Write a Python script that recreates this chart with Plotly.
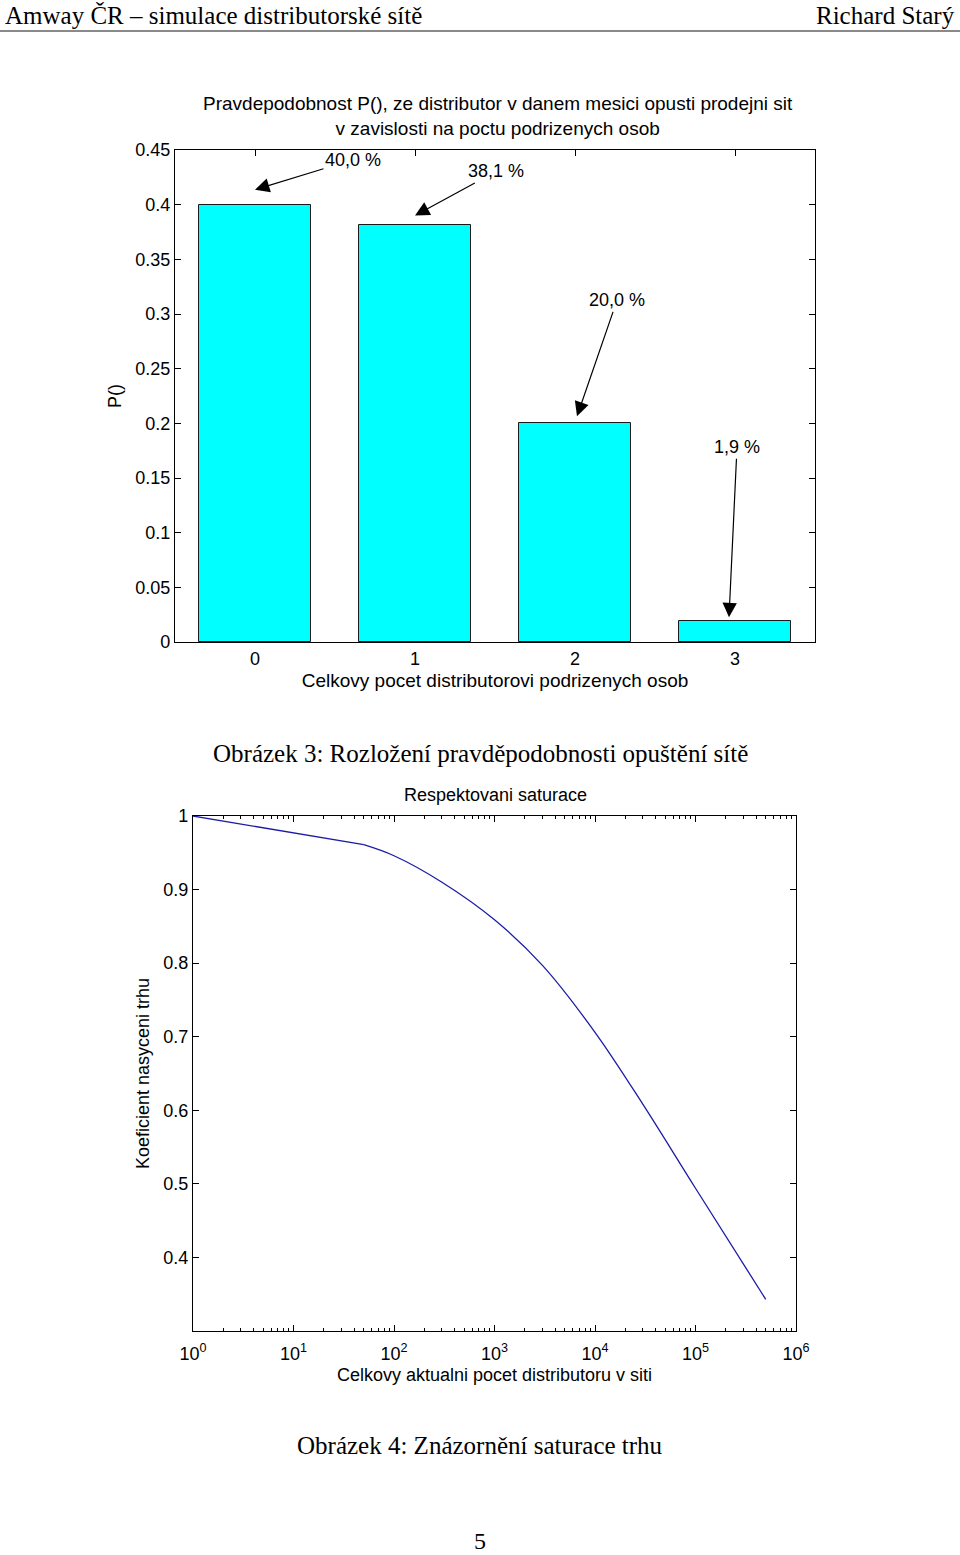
import plotly.graph_objects as go

# ---- data: bar chart ----
bar_cats = [0, 1, 2, 3]
bar_vals = [0.400, 0.381, 0.200, 0.019]
bar_labels = ["40,0 %", "38,1 %", "20,0 %", "1,9 %"]

# ---- data: saturation curve ----
sat_x = [1, 50, 100, 300, 1000, 3000, 10000, 30000, 100000, 500000]
sat_y = [1.000, 0.961, 0.946, 0.910, 0.859, 0.797, 0.706, 0.608, 0.494, 0.343]

bar_yticks = [0, 0.05, 0.1, 0.15, 0.2, 0.25, 0.3, 0.35, 0.4, 0.45]
bar_yticktext = ["0", "0.05", "0.1", "0.15", "0.2", "0.25", "0.3", "0.35", "0.4", "0.45"]
sat_yticks = [0.4, 0.5, 0.6, 0.7, 0.8, 0.9, 1.0]
sat_yticktext = ["0.4", "0.5", "0.6", "0.7", "0.8", "0.9", "1"]
sat_xticks = [1, 10, 100, 1000, 10000, 100000, 1000000]
sat_xticktext = ["10<sup>%d</sup>" % i for i in range(7)]

W, H = 960, 1555
SANS = "Liberation Sans, Arial, sans-serif"
SERIF = "Liberation Serif, Times New Roman, serif"

def px(x):
    return x / W

def py(y):
    return 1 - y / H

fig = go.Figure()

fig.add_trace(go.Bar(
    x=bar_cats, y=bar_vals, width=0.7,
    marker=dict(color="#00FFFF", line=dict(color="#1a1a1a", width=1)),
    xaxis="x", yaxis="y", showlegend=False,
))

# straight first segment up to the kink, smooth curve afterwards
fig.add_trace(go.Scatter(
    x=sat_x[:2], y=sat_y[:2], mode="lines",
    line=dict(color="#1c1ca8", width=1.3),
    xaxis="x2", yaxis="y2", showlegend=False,
))
fig.add_trace(go.Scatter(
    x=sat_x[1:], y=sat_y[1:], mode="lines",
    line=dict(color="#1c1ca8", width=1.3, shape="spline", smoothing=1.0),
    xaxis="x2", yaxis="y2", showlegend=False,
))

axis_common = dict(
    showline=True, linecolor="black", linewidth=1.2, mirror="ticks",
    ticks="inside", tickcolor="black", ticklen=6, tickwidth=1,
    showgrid=False, zeroline=False,
    tickfont=dict(family=SANS, size=18, color="black"),
    automargin=False,
)

fig.update_layout(
    width=W, height=H,
    margin=dict(l=0, r=0, t=0, b=0),
    paper_bgcolor="white", plot_bgcolor="white",
    bargap=0,
    xaxis=dict(
        axis_common, domain=[px(175), px(815)], range=[-0.5, 3.5],
        tickvals=bar_cats, ticktext=[str(c) for c in bar_cats],
        layer="below traces", anchor="y",
        title=dict(text="Celkovy pocet distributorovi podrizenych osob",
                   font=dict(family=SANS, size=19, color="black"), standoff=5),
    ),
    yaxis=dict(
        axis_common, domain=[py(642), py(150)], range=[0, 0.45],
        tickvals=bar_yticks, ticktext=bar_yticktext, anchor="x",
        title=dict(text="P()", font=dict(family=SANS, size=18, color="black"), standoff=8),
    ),
    xaxis2=dict(
        axis_common, domain=[px(193), px(796)], type="log", range=[0, 6],
        tickvals=sat_xticks, ticktext=sat_xticktext, anchor="y2",
        ticklabelstandoff=6,
        minor=dict(ticks="inside", ticklen=3, tickcolor="black", dtick="D1"),
        title=dict(text="Celkovy aktualni pocet distributoru v siti",
                   font=dict(family=SANS, size=18, color="black"), standoff=5),
    ),
    yaxis2=dict(
        axis_common, domain=[py(1331), py(816)], range=[0.3, 1.0],
        tickvals=sat_yticks, ticktext=sat_yticktext, anchor="x2",
        title=dict(text="Koeficient nasyceni trhu", font=dict(family=SANS, size=18, color="black"), standoff=8),
    ),
)

annotations = []

# page header
annotations.append(dict(text="Amway ČR – simulace distributorské sítě", x=px(3), y=py(15),
                        xref="paper", yref="paper", xanchor="left", yanchor="middle", showarrow=False,
                        font=dict(family=SERIF, size=25, color="black")))
annotations.append(dict(text="Richard Starý", x=px(957), y=py(15),
                        xref="paper", yref="paper", xanchor="right", yanchor="middle", showarrow=False,
                        font=dict(family=SERIF, size=25, color="black")))

# chart titles
annotations.append(dict(text="Pravdepodobnost P(), ze distributor v danem mesici opusti prodejni sit<br>v zavislosti na poctu podrizenych osob",
                        x=px(498), y=py(116), xref="paper", yref="paper", xanchor="center", yanchor="middle",
                        showarrow=False, font=dict(family=SANS, size=19, color="black")))
annotations.append(dict(text="Respektovani saturace", x=px(495), y=py(795), xref="paper", yref="paper",
                        xanchor="center", yanchor="middle", showarrow=False,
                        font=dict(family=SANS, size=18, color="black")))

# captions
annotations.append(dict(text="Obrázek 3: Rozložení pravděpodobnosti opuštění sítě", x=px(480), y=py(753),
                        xref="paper", yref="paper", xanchor="center", yanchor="middle", showarrow=False,
                        font=dict(family=SERIF, size=25, color="black")))
annotations.append(dict(text="Obrázek 4: Znázornění saturace trhu", x=px(480), y=py(1445),
                        xref="paper", yref="paper", xanchor="center", yanchor="middle", showarrow=False,
                        font=dict(family=SERIF, size=25, color="black")))
annotations.append(dict(text="5", x=px(480), y=py(1541),
                        xref="paper", yref="paper", xanchor="center", yanchor="middle", showarrow=False,
                        font=dict(family=SERIF, size=24, color="black")))

# bar arrows
arrow_ax = [98, 81, 40, 8]
arrow_ay = [-30, -44, -116, -170]
arrow_yshift = [15, 10, 7, 4]
arrow_xshift = [0, 0, 2, -6]
for c, v, lab, axo, ayo, ys, xs in zip(bar_cats, bar_vals, bar_labels, arrow_ax, arrow_ay, arrow_yshift, arrow_xshift):
    annotations.append(dict(
        text=lab, x=c, y=v, xref="x", yref="y", ax=axo, ay=ayo, axref="pixel", ayref="pixel",
        showarrow=True, arrowhead=2, arrowsize=2.4, arrowwidth=1.2, arrowcolor="black",
        yshift=ys, xshift=xs, font=dict(family=SANS, size=18, color="black"),
    ))

fig.update_layout(annotations=annotations)

# header rule
fig.add_shape(type="line", xref="paper", yref="paper", x0=0, x1=1, y0=py(31), y1=py(31),
              line=dict(color="#8a8a8a", width=2))

fig.write_html("out.html")
